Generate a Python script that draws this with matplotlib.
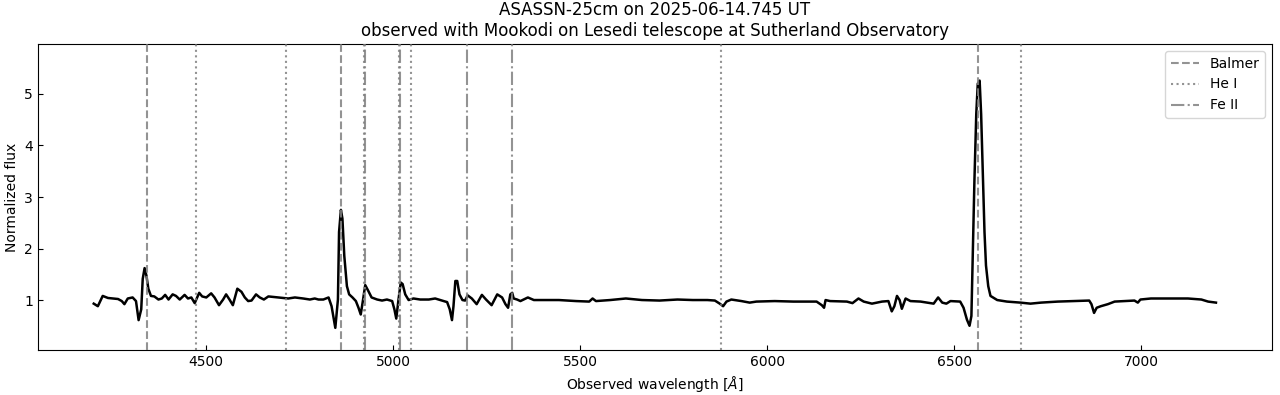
import matplotlib
matplotlib.use("Agg")
import matplotlib.pyplot as plt

# Spectrum (observed wavelength in Angstrom, normalized flux)
wavelength = [
    4199, 4210, 4223, 4237, 4250, 4264, 4274, 4281, 4290, 4303, 4312, 4319, 4326, 4330,
    4335, 4340, 4345, 4352, 4361, 4372, 4381, 4390, 4399, 4410, 4419, 4429, 4442, 4451,
    4460, 4469, 4481, 4489, 4500, 4513, 4522, 4534, 4545, 4553, 4562, 4571, 4583, 4594,
    4603, 4612, 4621, 4633, 4643, 4654, 4666, 4692, 4719, 4737, 4759, 4777, 4790, 4800,
    4813, 4827, 4835, 4845, 4852, 4855, 4860, 4864, 4869, 4876, 4882, 4891, 4900, 4907,
    4913, 4918, 4925, 4933, 4942, 4957, 4970, 4983, 4997, 5003, 5008, 5014, 5020, 5025,
    5032, 5041, 5054, 5072, 5095, 5112, 5130, 5144, 5151, 5157, 5161, 5166, 5171, 5177,
    5185, 5192, 5199, 5210, 5223, 5237, 5248, 5263, 5278, 5291, 5300, 5307, 5313, 5318,
    5322, 5331, 5340, 5360, 5376, 5408, 5443, 5489, 5524, 5533, 5542, 5580, 5622, 5665,
    5712, 5760, 5801, 5840, 5860, 5873, 5882, 5891, 5904, 5931, 5953, 5971, 6020, 6070,
    6100, 6132, 6146, 6152, 6156, 6168, 6213, 6228, 6244, 6258, 6280, 6307, 6324, 6333,
    6340, 6347, 6354, 6360, 6370, 6383, 6410, 6428, 6445, 6457, 6468, 6479, 6490, 6516,
    6525, 6534, 6541, 6546, 6550, 6554, 6559, 6563, 6568, 6572, 6577, 6581, 6585, 6591,
    6597, 6615, 6641, 6677, 6704, 6732, 6777, 6821, 6861, 6867, 6874, 6881, 6892, 6911,
    6929, 6955, 6982, 6991, 6998, 7026, 7071, 7125, 7161, 7179, 7200,
]
flux = [
    0.93, 0.88, 1.08, 1.04, 1.03, 1.02, 0.98, 0.92, 1.03, 1.05, 0.98, 0.61, 0.82, 1.41,
    1.62, 1.47, 1.22, 1.08, 1.07, 1.01, 1.03, 1.10, 1.01, 1.11, 1.08, 1.01, 1.10, 1.03,
    1.05, 0.94, 1.14, 1.07, 1.05, 1.13, 1.05, 0.90, 1.01, 1.11, 1.01, 0.90, 1.22, 1.16,
    1.05, 0.98, 0.99, 1.11, 1.05, 1.01, 1.07, 1.05, 1.03, 1.05, 1.03, 1.01, 1.03, 1.01,
    1.01, 1.05, 0.88, 0.46, 1.01, 2.32, 2.75, 2.58, 1.86, 1.27, 1.11, 1.05, 0.98, 0.85,
    0.72, 0.95, 1.29, 1.18, 1.05, 1.01, 0.99, 1.01, 0.98, 0.82, 0.64, 1.01, 1.34, 1.31,
    1.11, 1.00, 1.03, 1.01, 1.01, 1.03, 0.99, 0.96, 0.82, 0.61, 0.88, 1.37, 1.37, 1.11,
    1.00, 0.99, 1.09, 1.03, 0.92, 1.10, 1.01, 0.90, 1.11, 1.05, 0.92, 0.85, 1.11, 1.14,
    1.03, 1.01, 0.98, 1.05, 1.00, 1.00, 1.00, 0.98, 0.97, 1.03, 0.98, 1.00, 1.03, 1.00,
    0.99, 1.01, 1.00, 1.00, 0.99, 0.93, 0.88, 0.97, 1.01, 0.98, 0.95, 0.97, 0.98, 0.97,
    0.97, 0.97, 0.90, 0.85, 1.00, 0.98, 0.97, 0.94, 1.03, 0.97, 0.93, 0.97, 0.98, 0.78,
    0.88, 1.08, 1.00, 0.83, 1.03, 0.98, 0.97, 0.95, 0.93, 1.05, 0.95, 0.93, 0.98, 0.97,
    0.85, 0.62, 0.50, 0.69, 1.99, 3.30, 4.61, 5.20, 5.26, 4.61, 3.30, 2.32, 1.67, 1.27,
    1.08, 1.00, 0.97, 0.95, 0.93, 0.95, 0.97, 0.98, 0.99, 0.92, 0.75, 0.85, 0.88, 0.92,
    0.97, 0.98, 0.99, 0.95, 1.01, 1.03, 1.03, 1.03, 1.01, 0.97, 0.95,
]

balmer_lines = [4340.47, 4861.33, 6562.8]
hei_lines = [4471.5, 4713.1, 4921.9, 5015.7, 5047.7, 5875.6, 6678.2]
feii_lines = [4923.9, 5018.4, 5197.6, 5316.6]

title = "ASASSN-25cm on 2025-06-14.745 UT\nobserved with Mookodi on Lesedi telescope at Sutherland Observatory"

fig = plt.figure(figsize=(12.8, 3.95), dpi=100)
ax = fig.add_axes([0.0297, 0.1139, 0.9641, 0.7747])

ax.plot(wavelength, flux, color="black", lw=1.8, zorder=2)

line_kw = dict(color="gray", lw=1.5, alpha=0.85, zorder=3)
for i, w in enumerate(balmer_lines):
    ax.axvline(w, ls="--", label="Balmer" if i == 0 else None, **line_kw)
for i, w in enumerate(hei_lines):
    ax.axvline(w, ls=":", label="He I" if i == 0 else None, **line_kw)
for i, w in enumerate(feii_lines):
    ax.axvline(w, ls="-.", label="Fe II" if i == 0 else None, **line_kw)

ax.set_xlim(4050, 7350)
ax.set_ylim(0.03, 5.97)
ax.set_yticks([1, 2, 3, 4, 5])
ax.set_xticks([4500, 5000, 5500, 6000, 6500, 7000])
ax.tick_params(direction="in", labelsize=10)

ax.set_xlabel(r"Observed wavelength [$\AA$]", fontsize=10)
ax.set_ylabel("Normalized flux", fontsize=10)
ax.set_title(title, fontsize=12)
ax.legend(loc="upper right", fontsize=10)

fig.savefig("out.png", dpi=100)
